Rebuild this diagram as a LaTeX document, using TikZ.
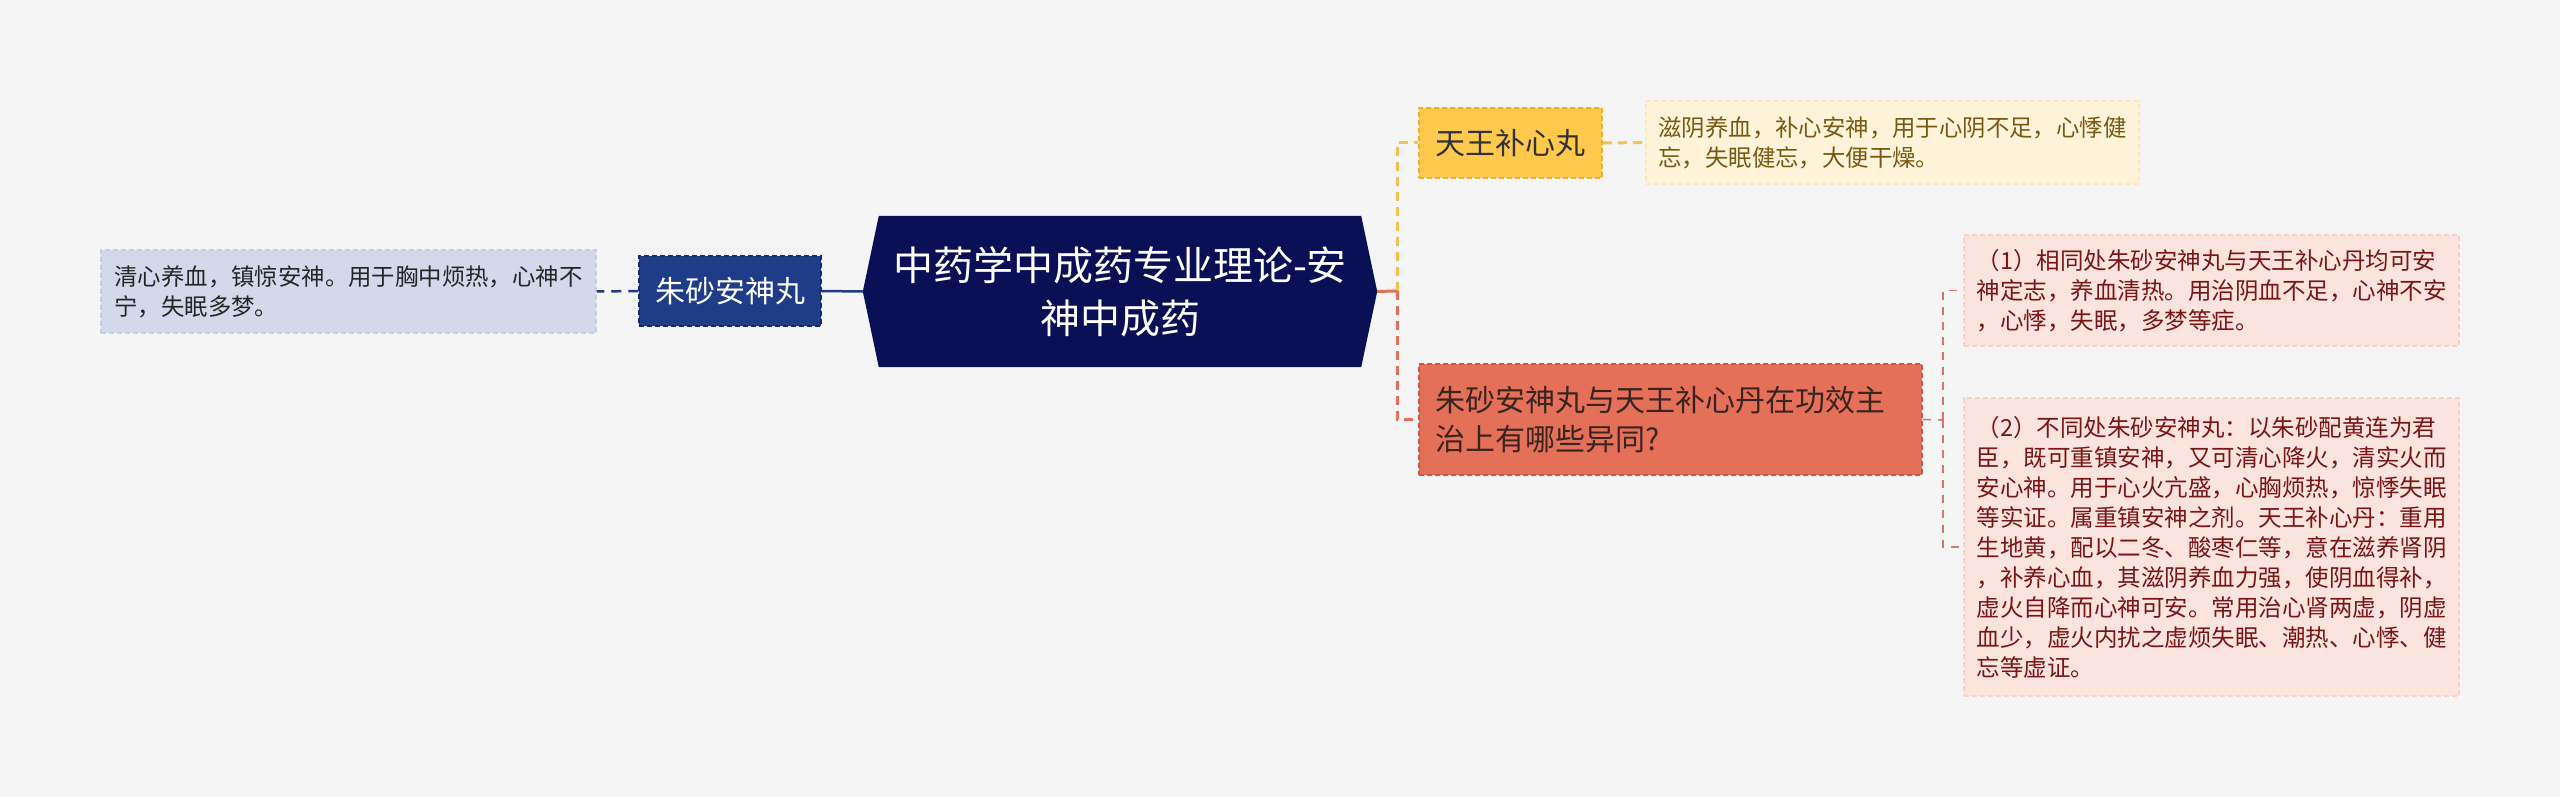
\documentclass[tikz,border=0pt]{standalone}
\usepackage{fontspec}
\newfontfamily\cjk{Noto Sans CJK SC}
\usetikzlibrary{backgrounds}
\definecolor{bgcol}{HTML}{F5F5F5}
\definecolor{rootcol}{HTML}{0B1056}
\definecolor{navy}{HTML}{1F3C88}
\definecolor{navyb}{HTML}{152E6E}
\definecolor{ldfill}{HTML}{D3D9EA}
\definecolor{ldbord}{HTML}{C6CDE1}
\definecolor{ylfill}{HTML}{FFC94D}
\definecolor{ylbord}{HTML}{EFB12C}
\definecolor{yldfill}{HTML}{FFF3D9}
\definecolor{yldbord}{HTML}{FAE8C2}
\definecolor{yltext}{HTML}{7A5A12}
\definecolor{ylline}{HTML}{F4C24D}
\definecolor{rdfill}{HTML}{E5705A}
\definecolor{rdbord}{HTML}{D2593F}
\definecolor{rdtext}{HTML}{3A2420}
\definecolor{pkfill}{HTML}{FBE3DE}
\definecolor{pkbord}{HTML}{F5D3CC}
\definecolor{pktext}{HTML}{7B1616}
\definecolor{pkline}{HTML}{D9756B}
\tikzset{
  box/.style={rectangle, inner sep=0pt, align=left, line width=1.5pt, dash pattern=on 5pt off 3pt},
  desctxt/.style={font=\cjk\fontsize{23.4}{30}\selectfont},
  anstxt/.style={font=\cjk\fontsize{23.5}{30}\selectfont},
  ttltxt/.style={font=\cjk\fontsize{30}{39}\selectfont},
  navyline/.style={draw=navy, line width=2.5pt},
  ylconn/.style={draw=ylline, line width=3pt, dash pattern=on 9pt off 6pt},
  rdconn/.style={draw=rdfill, line width=3pt, dash pattern=on 9pt off 6pt},
  pkconn/.style={draw=pkline, line width=1.6pt, dash pattern=on 8pt off 7pt},
}
\begin{document}
\begin{tikzpicture}[x=1pt,y=-1pt]
\useasboundingbox (0,0) rectangle (2560,797);
\begin{scope}[on background layer]
\fill[bgcol] (0,0) rectangle (2560,797);
\end{scope}

% root
\node[rectangle, inner sep=0pt, minimum width=482pt, minimum height=151pt, align=center,
      text=white, font=\cjk\fontsize{40}{53}\selectfont] (root) at (1120,291.5)
  {中药学中成药专业理论-安\\神中成药};
\begin{scope}[on background layer]
\fill[rootcol] (root.north west) -- (root.north east) -- ([xshift=16pt]root.east)
  -- (root.south east) -- (root.south west) -- ([xshift=-16pt]root.west) -- cycle;
\end{scope}
\coordinate (rootE) at ([xshift=16pt]root.east);
\coordinate (rootW) at ([xshift=-16pt]root.west);

% left side
\node[box, ttltxt, fill=navy, draw=navyb, text=white, minimum width=182pt, minimum height=70pt] (zs) at (730,291) {朱砂安神丸};
\node[box, desctxt, fill=ldfill, draw=ldbord, text=black!85, minimum width=495pt, minimum height=83pt] (ld) at (348.5,291.5)
  {清心养血，镇惊安神。用于胸中烦热，心神不\\宁，失眠多梦。};

% right upper
\node[box, ttltxt, fill=ylfill, draw=ylbord, text=black!80, minimum width=183pt, minimum height=70pt] (tw) at (1510.5,143) {天王补心丸};
\node[box, desctxt, fill=yldfill, draw=yldbord, text=yltext, minimum width=493pt, minimum height=83pt] (twd) at (1892.5,142.5)
  {滋阴养血，补心安神，用于心阴不足，心悸健\\忘，失眠健忘，大便干燥。};

% right lower
\node[box, ttltxt, fill=rdfill, draw=rdbord, text=rdtext, text width=471pt, minimum width=503pt, minimum height=111pt] (q) at (1670.5,419.5)
  {朱砂安神丸与天王补心丹在功效主\\治上有哪些异同?};
\node[box, anstxt, fill=pkfill, draw=pkbord, text=pktext, minimum width=495pt, minimum height=111pt] (a1) at (2211.5,290.5)
  {（1）相同处朱砂安神丸与天王补心丹均可安\\神定志，养血清热。用治阴血不足，心神不安\\，心悸，失眠，多梦等症。};
\node[box, anstxt, fill=pkfill, draw=pkbord, text=pktext, minimum width=495pt, minimum height=298pt] (a2) at (2211.5,547)
  {（2）不同处朱砂安神丸：以朱砂配黄连为君\\臣，既可重镇安神，又可清心降火，清实火而\\安心神。用于心火亢盛，心胸烦热，惊悸失眠\\等实证。属重镇安神之剂。天王补心丹：重用\\生地黄，配以二冬、酸枣仁等，意在滋养肾阴\\，补养心血，其滋阴养血力强，使阴血得补，\\虚火自降而心神可安。常用治心肾两虚，阴虚\\血少，虚火内扰之虚烦失眠、潮热、心悸、健\\忘等虚证。};

% connectors
\draw[navyline] (rootW) -- (zs.east);
\draw[navyline, dash pattern=on 10pt off 7pt] (zs.west) -- (ld.east);

\coordinate (jR) at (1397,291);
\draw[ylconn] (jR) |- (tw.west);
\draw[rdconn] (jR) |- (q.west);
\draw[draw=rdfill, line width=3pt] (rootE) -- (jR);
\draw[ylconn] (tw.east) -- (twd.west);

\coordinate (jQ) at (1943,420);
\draw[pkconn] (q.east) -- (jQ);
\draw[pkconn] (jQ) |- (a1.west);
\draw[pkconn] (jQ) |- (a2.west);
\end{tikzpicture}
\end{document}
